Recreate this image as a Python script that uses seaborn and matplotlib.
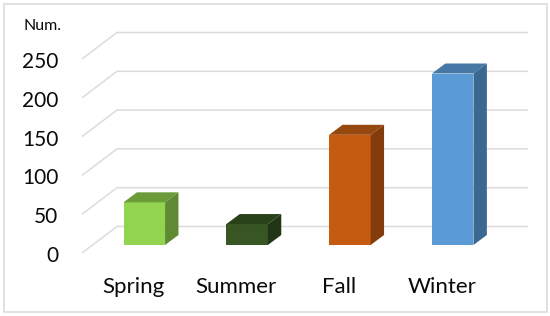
import matplotlib.pyplot as plt
import matplotlib.transforms as mtrans
from matplotlib.patches import Polygon, Rectangle
import pandas as pd
import seaborn as sns

seasons = ['Spring', 'Summer', 'Fall', 'Winter']
counts = [55, 27, 142, 221]
y_ticks = [0, 50, 100, 150, 200, 250]
front_colors = ['#92d350', '#375623', '#c55a11', '#5b9bd5']
top_colors = ['#6c9c3a', '#2a4219', '#97480f', '#4678a6']
side_colors = ['#5f8a33', '#223615', '#843c0c', '#3b6891']

sns.set_theme(style='white')
plt.rcParams['font.family'] = ['Lato', 'DejaVu Sans']

W, H = 550, 316
px_per_val = 0.776
px_per_cat = 102.8
first_bar_x = 144.3
base_y = 245
left, right, bottom, top = 82, 528, 253, 33

fig = plt.figure(figsize=(W / 100, H / 100), dpi=100, facecolor='white')
ax = fig.add_axes([left / W, (H - bottom) / H, (right - left) / W, (bottom - top) / H])

df = pd.DataFrame({'season': seasons, 'count': counts})
sns.barplot(data=df, x='season', y='count', hue='season', palette=front_colors,
            order=seasons, hue_order=seasons, width=0.404, saturation=1,
            legend=False, zorder=3, linewidth=0, edgecolor='none', ax=ax)

ax.set_xlim((left - first_bar_x) / px_per_cat, (right - first_bar_x) / px_per_cat)
ax.set_ylim((base_y - bottom) / px_per_val, (base_y - top) / px_per_val)
x0, x1 = ax.get_xlim()
y0 = ax.get_ylim()[0]

# back wall and floor lines, all measured in px then turned into data units
wall_dx = 35 / px_per_cat
wall_dy = 26.5 / px_per_val
for v in y_ticks:
    ax.plot([x0, x0 + wall_dx, x1], [v + y0, v + y0 + wall_dy, v + y0 + wall_dy],
            color='#dcdcdc', lw=1.1, zorder=1, clip_on=False, solid_capstyle='butt')

# fake 3d: top and side face for each bar
dx = 13.4 / px_per_cat
dy = 10 / px_per_val
for i, container in enumerate(ax.containers):
    bar = container[0]
    l, b = bar.get_x(), bar.get_y()
    r, t = l + bar.get_width(), b + bar.get_height()
    ax.add_patch(Polygon([(l, t), (r, t), (r + dx, t + dy), (l + dx, t + dy)],
                         facecolor=top_colors[i], edgecolor='none', zorder=3))
    ax.add_patch(Polygon([(r, b), (r + dx, b + dy), (r + dx, t + dy), (r, t)],
                         facecolor=side_colors[i], edgecolor='none', zorder=3))

ax.set_xlabel('')
ax.set_ylabel('')
sns.despine(ax=ax, left=True, bottom=True)
ax.set_xticks(range(len(seasons)), seasons)
ax.set_yticks(y_ticks)
ax.tick_params(axis='x', length=0, pad=17, labelsize=16, labelcolor='#0a0a0a')
ax.tick_params(axis='y', length=0, pad=17, labelsize=15, labelcolor='#0a0a0a')

x_shift = mtrans.ScaledTranslation(-11 / 100, 0, fig.dpi_scale_trans)
for lab in ax.get_xticklabels():
    lab.set_transform(lab.get_transform() + x_shift)
y_shift = mtrans.ScaledTranslation(0, -9 / 100, fig.dpi_scale_trans)
for lab in ax.get_yticklabels():
    lab.set_transform(lab.get_transform() + y_shift)

fig.text(23.5 / W, 1 - 26 / H, 'Num.', fontsize=11.5, color='#0a0a0a', ha='left', va='center')
fig.add_artist(Rectangle((4 / W, 1 - 311.5 / H), 542.5 / W, 307.5 / H, transform=fig.transFigure,
                         facecolor='none', edgecolor='#d9d9d9', lw=1.1))

fig.savefig('out.png', dpi=100)
